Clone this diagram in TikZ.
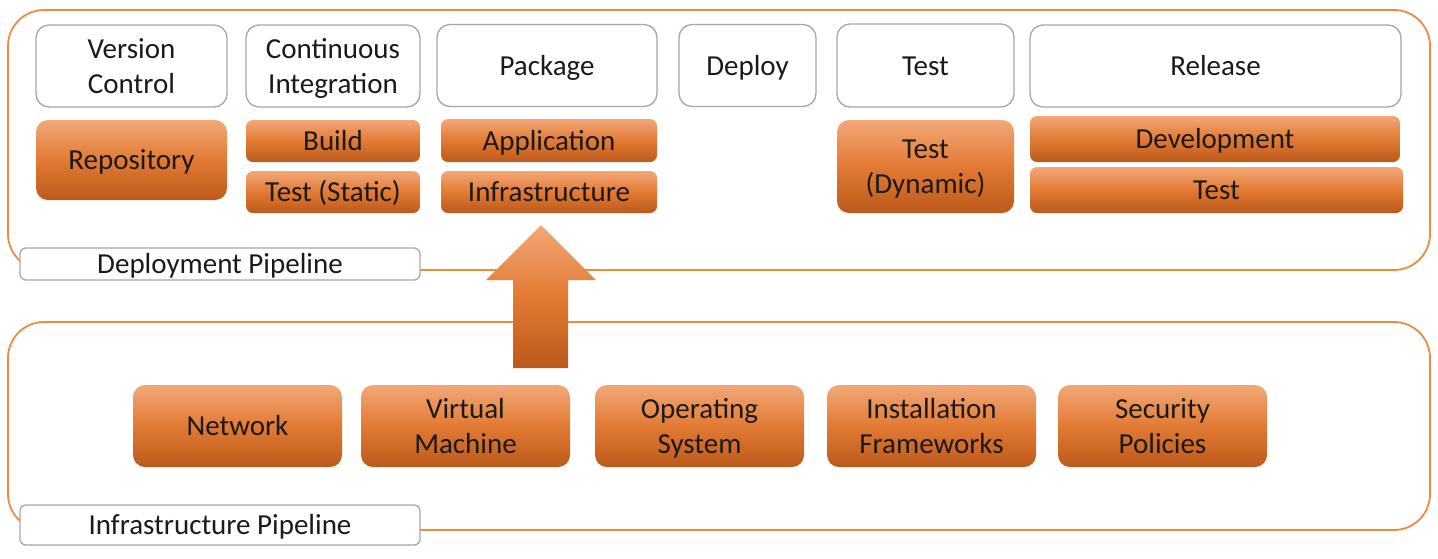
\documentclass[tikz,border=0pt]{standalone}
\usepackage{fontspec}
\setmainfont{Carlito}
\definecolor{ctr}{HTML}{F08A42}
\definecolor{gb}{HTML}{A6A6A6}
\definecolor{otop}{HTML}{F2A878}
\definecolor{omid}{HTML}{E27A33}
\definecolor{obot}{HTML}{BC591B}
\definecolor{txt}{HTML}{1A1A1A}
\tikzset{
  container/.style={draw=ctr, line width=1.8pt, rounded corners=36pt, inner sep=0pt},
  headbox/.style={draw=gb, line width=1.3pt, fill=white, rounded corners=13pt, inner sep=0pt,
    align=center, text=txt, font=\fontsize{29}{35}\selectfont},
  obox/.style={rounded corners=#1, top color=otop, bottom color=obot, middle color=omid,
    inner sep=0pt, align=center, text=txt, font=\fontsize{29}{35}\selectfont},
  obox/.default=12pt,
  lblbox/.style={draw=gb, line width=1.3pt, fill=white, rounded corners=6pt, inner sep=0pt,
    align=center, text=txt, font=\fontsize{29}{35}\selectfont},
  oneline/.style={text height=19pt, text depth=0pt},
  twoline/.style={text height=54pt, text depth=0pt},
  blockarrow/.style={top color=otop, bottom color=obot, middle color=omid}
}
\begin{document}
\begin{tikzpicture}[x=1pt,y=-1pt]
\useasboundingbox (0,0) rectangle (1438,558);
% containers
\node[container, minimum width=1422pt, minimum height=260pt] (dp) at (719,140) {};
\node[container, minimum width=1422pt, minimum height=208pt] (ip) at (719,426) {};
% labels
\node[lblbox, oneline, minimum width=400pt, minimum height=32pt] (dpl) at (220,264) {Deployment Pipeline};
\node[lblbox, oneline, minimum width=400pt, minimum height=40pt] (ipl) at (220,525) {Infrastructure Pipeline};
% header boxes
\node[headbox, twoline, minimum width=191pt, minimum height=82pt] (vc) at (131.5,66) {Version\\Control};
\node[headbox, twoline, minimum width=174pt, minimum height=82pt] (ci) at (333,66) {Continuous\\Integration};
\node[headbox, oneline, minimum width=220pt, minimum height=82pt] (pk) at (547,65.5) {Package};
\node[headbox, oneline, minimum width=137pt, minimum height=82pt] (dep) at (747.5,65.5) {Deploy};
\node[headbox, oneline, minimum width=177pt, minimum height=83pt] (ts) at (925.5,65.5) {Test};
\node[headbox, oneline, minimum width=371pt, minimum height=82pt] (rel) at (1215.5,66) {Release};
% orange boxes, top
\node[obox, oneline, minimum width=191pt, minimum height=80pt] (repo) at (131.5,160) {Repository};
\node[obox=7pt, oneline, minimum width=174pt, minimum height=42pt] (build) at (333,141) {Build};
\node[obox=7pt, oneline, minimum width=174pt, minimum height=42pt] (tstat) at (333,192) {Test (Static)};
\node[obox=7pt, oneline, minimum width=216pt, minimum height=43pt] (app) at (549,140.5) {Application};
\node[obox=7pt, oneline, minimum width=216pt, minimum height=42pt] (infra) at (549,192) {Infrastructure};
\node[obox, twoline, minimum width=177pt, minimum height=93pt] (tdyn) at (925.5,166.5) {Test\\(Dynamic)};
\node[obox=7pt, oneline, minimum width=370pt, minimum height=46pt] (devel) at (1215,139) {Development};
\node[obox=7pt, oneline, minimum width=373pt, minimum height=46pt] (rtest) at (1216.5,190) {Test};
% orange boxes, bottom
\node[obox, oneline, minimum width=209pt, minimum height=82pt] (net) at (237.5,426) {Network};
\node[obox, twoline, minimum width=209pt, minimum height=82pt] (vm) at (465.5,426) {Virtual\\Machine};
\node[obox, twoline, minimum width=209pt, minimum height=82pt] (os) at (699.5,426) {Operating\\System};
\node[obox, twoline, minimum width=209pt, minimum height=82pt] (inst) at (931.5,426) {Installation\\Frameworks};
\node[obox, twoline, minimum width=209pt, minimum height=82pt] (sec) at (1162.5,426) {Security\\Policies};
% block arrow
\coordinate (tip) at (541,225);
\shade[blockarrow] (tip) -- (596,280) -- (568,280) -- (568,368) -- (513,368) -- (513,280) -- (486,280) -- cycle;
\end{tikzpicture}
\end{document}
